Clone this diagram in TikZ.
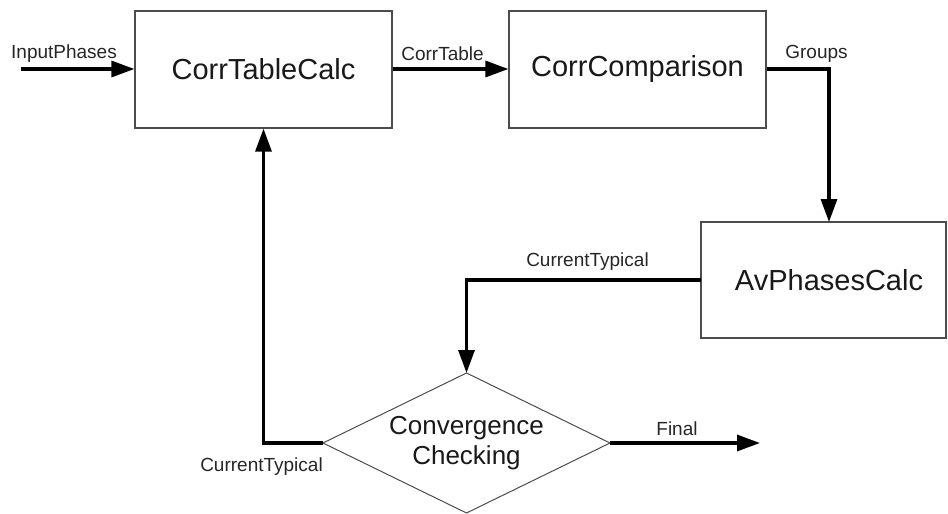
\documentclass[tikz,border=0pt]{standalone}
\usepackage{fontspec}
\setmainfont{Liberation Sans}
\usetikzlibrary{arrows.meta,shapes.geometric}
\begin{document}
\begin{tikzpicture}[x=1pt,y=-1pt,
  blk/.style={draw=black!70,line width=1.2pt,rectangle,inner sep=0pt},
  big/.style={font=\fontsize{29}{33}\selectfont,text=black!90},
  lbl/.style={font=\fontsize{19}{22}\selectfont,text=black!85,inner sep=0pt},
  conn/.style={line width=3.2pt,black,-{Triangle[length=23pt,width=16pt]}}]
\useasboundingbox (0,0) rectangle (948,514);
% boxes
\node[blk,minimum width=257pt,minimum height=117pt] (ctc) at (263.5,69.5) {};
\node[big] at (263.5,69.5) {CorrTableCalc};
\node[blk,minimum width=257pt,minimum height=117pt] (cc) at (637.5,69.5) {};
\node[big] at (637.5,69.5) {CorrComparison};
\draw[draw=black!70,line width=1.2pt] (701,222) rectangle (946,338);
\coordinate (avl) at (701,280);
\coordinate (avt) at (829,222);
\node[big] (av) at (829,280) {AvPhasesCalc};
% diamond
\draw[draw=black!70,line width=1pt] (466.5,373) -- (610,443) -- (466.5,513) -- (323,443) -- cycle;
\coordinate (dt) at (466.5,373);
\coordinate (dl) at (323,443);
\coordinate (dr) at (610,443);
\node[align=center,font=\fontsize{26}{30}\selectfont,text=black!90] (conv) at (466.5,443) {Convergence\\Checking};
% connectors
\coordinate (in) at (21,69);
\coordinate (fin) at (760,443);
\draw[conn] (in) -- (ctc.west|-in);
\draw[conn] (ctc.east|-in) -- (cc.west|-in);
\draw[conn] (cc.east|-in) -| (avt);
\draw[conn] (avl) -| (dt);
\draw[conn] (dl) -| (ctc.south);
\draw[conn] (dr) -- (fin);
% labels
\node[lbl] (l1) at (64,54) {InputPhases};
\node[lbl] (l2) at (442.5,54) {CorrTable};
\node[lbl] (l3) at (816.5,54) {Groups};
\node[lbl] (l4) at (587.5,262) {CurrentTypical};
\node[lbl] (l5) at (261.5,467) {CurrentTypical};
\node[lbl] (l6) at (677,429) {Final};
\end{tikzpicture}
\end{document}
